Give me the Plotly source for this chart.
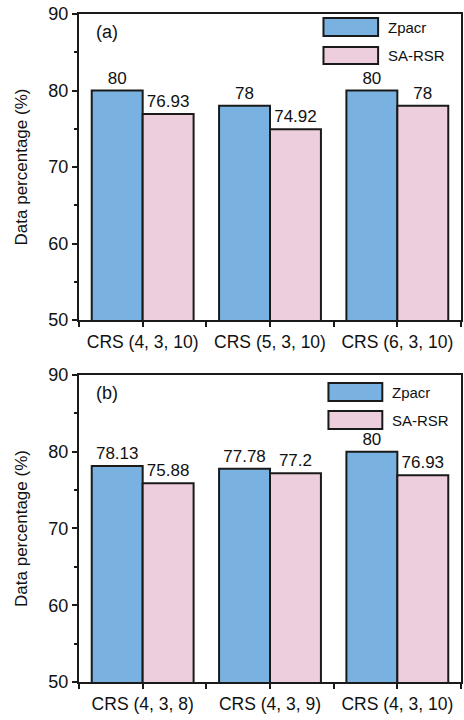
import plotly.graph_objects as go

categories_a = ["CRS (4, 3, 10)", "CRS (5, 3, 10)", "CRS (6, 3, 10)"]
zpacr_a = [80, 78, 80]
sarsr_a = [76.93, 74.92, 78]

categories_b = ["CRS (4, 3, 8)", "CRS (4, 3, 9)", "CRS (4, 3, 10)"]
zpacr_b = [78.13, 77.78, 80]
sarsr_b = [75.88, 77.2, 76.93]

series_names = ["Zpacr", "SA-RSR"]
y_ticks = [50, 60, 70, 80, 90]

BLUE = "#79B2E0"
PINK = "#EDCEDC"
EDGE = "#1a1a1a"
FONT = "Liberation Sans, Arial, sans-serif"

fig = go.Figure()

def add_panel(cats, z, s, xa, ya):
    idx = list(range(len(cats)))
    for vals, col, name in [(z, BLUE, series_names[0]), (s, PINK, series_names[1])]:
        fig.add_trace(go.Bar(
            x=idx, y=vals, name=name, xaxis=xa, yaxis=ya,
            marker=dict(color=col, line=dict(color=EDGE, width=2)),
            text=[f"{v:g}" for v in vals], textposition="outside",
            textfont=dict(size=17, color="#111", family=FONT),
            cliponaxis=False, showlegend=False,
        ))

add_panel(categories_a, zpacr_a, sarsr_a, "x", "y")
add_panel(categories_b, zpacr_b, sarsr_b, "x2", "y2")

def xaxis_cfg(cats, anchor):
    return dict(
        range=[-0.5, len(cats) - 0.5], tickvals=list(range(len(cats))), ticktext=cats,
        showline=True, linecolor=EDGE, linewidth=2, mirror=True,
        ticks="outside", ticklen=5, tickwidth=1.5, tickcolor=EDGE,
        minor=dict(dtick=0.5, tick0=0.5, ticks="outside", ticklen=5, tickwidth=1.5, tickcolor=EDGE),
        tickfont=dict(size=17.5, color="#111", family=FONT),
        showgrid=False, zeroline=False, anchor=anchor, domain=[0, 1], automargin=False,
    )

def top_axis_cfg(cats, over, anchor):
    return dict(
        overlaying=over, anchor=anchor, side="top",
        range=[-0.5, len(cats) - 0.5], tickvals=[i + 0.5 for i in range(len(cats) - 1)],
        ticks="inside", ticklen=5, tickwidth=1.5, tickcolor=EDGE,
        showticklabels=False, showline=False, showgrid=False, zeroline=False, automargin=False,
    )

def yaxis_cfg(domain, anchor):
    return dict(
        range=[50, 90], tickvals=y_ticks, domain=domain, anchor=anchor,
        showline=True, linecolor=EDGE, linewidth=2, mirror=True,
        ticks="outside", ticklen=5, tickwidth=1.5, tickcolor=EDGE,
        minor=dict(dtick=5, ticks="outside", ticklen=3, tickwidth=1.5, tickcolor=EDGE),
        tickfont=dict(size=18, color="#111", family=FONT),
        title=dict(text="Data percentage (%)", font=dict(size=17, color="#111", family=FONT), standoff=16),
        showgrid=False, zeroline=False, automargin=False,
    )

fig.update_layout(
    width=464, height=720,
    margin=dict(l=79, r=3, t=14, b=38),
    plot_bgcolor="white", paper_bgcolor="white",
    barmode="group", bargap=0.2, bargroupgap=0,
    xaxis=xaxis_cfg(categories_a, "y"),
    yaxis=yaxis_cfg([0.5419, 1.0], "x"),
    xaxis2=xaxis_cfg(categories_b, "y2"),
    yaxis2=yaxis_cfg([0.0, 0.4596], "x2"),
    xaxis3=top_axis_cfg(categories_a, "x", "y"),
    xaxis4=top_axis_cfg(categories_b, "x2", "y2"),
    font=dict(family=FONT),
)

# panel labels
for lab, xr, yr in [("(a)", "x domain", "y domain"), ("(b)", "x2 domain", "y2 domain")]:
    fig.add_annotation(text=lab, x=0.04, y=0.94, xref=xr, yref=yr, showarrow=False,
                       xanchor="left", yanchor="middle", font=dict(size=18, color="#111", family=FONT))

# custom legends (large swatches)
legend_specs = [
    ("x domain", "y", 0.64, 0.783, [(89.48, 87.12), (85.69, 83.46)]),
    ("x2 domain", "y2", 0.653, 0.794, [(88.96, 86.6), (85.3, 82.96)]),
]
for xr, yr, x0, x1, rows in legend_specs:
    for (yt, yb), col, name in zip(rows, [BLUE, PINK], series_names):
        fig.add_shape(type="rect", xref=xr, yref=yr, x0=x0, x1=x1, y0=yb, y1=yt,
                      fillcolor=col, line=dict(color=EDGE, width=2))
        fig.add_annotation(text=name, xref=xr, yref=yr, x=x1 + 0.02, y=(yt + yb) / 2,
                           showarrow=False, xanchor="left", yanchor="middle",
                           font=dict(size=15, color="#111", family=FONT))

fig.write_html("out.html", config={"displayModeBar": False},
               post_script="document.body.style.margin='0';document.body.style.overflow='hidden';")
